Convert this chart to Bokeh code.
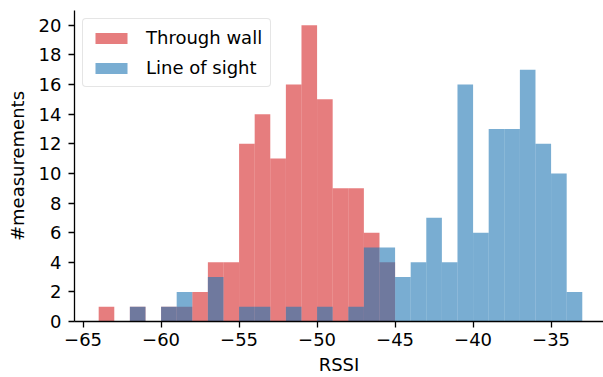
from bokeh.plotting import figure
from bokeh.models import Range1d, Legend, LegendItem, FixedTicker, ColumnDataSource
from bokeh.embed import file_html
from bokeh.resources import INLINE

# Histogram bins (left edges, width 1) and counts
bin_left = list(range(-64, -33))
through_wall = [1, 0, 1, 0, 1, 1, 2, 4, 4, 12, 14, 11, 16, 20, 15, 9, 9, 6, 4,
                0, 0, 0, 0, 0, 0, 0, 0, 0, 0, 0, 0]
line_of_sight = [0, 0, 1, 0, 1, 2, 0, 3, 0, 1, 1, 0, 1, 0, 1, 0, 1, 5, 5,
                 3, 4, 7, 4, 16, 6, 13, 13, 17, 12, 10, 2]
x_ticks = [-65, -60, -55, -50, -45, -40, -35]
y_ticks = list(range(0, 21, 2))

FONT = "DejaVu Sans"
FS = "18px"

p = figure(width=603, height=377, output_backend="svg", toolbar_location=None,
           x_range=Range1d(-65.55, -31.64), y_range=Range1d(0, 21))
p.min_border_left = 74
p.min_border_right = 0
p.min_border_top = 10
p.min_border_bottom = 56
p.outline_line_color = None
p.xgrid.visible = False
p.ygrid.visible = False
p.background_fill_color = "white"
p.border_fill_color = "white"

src_r = ColumnDataSource(dict(left=bin_left, right=[b + 1 for b in bin_left],
                              top=through_wall, bottom=[0] * len(bin_left)))
src_b = ColumnDataSource(dict(left=bin_left, right=[b + 1 for b in bin_left],
                              top=line_of_sight, bottom=[0] * len(bin_left)))

r_red = p.quad(left="left", right="right", top="top", bottom="bottom", source=src_r,
               fill_color=(214, 39, 40), fill_alpha=0.6, line_color=None)
r_blue = p.quad(left="left", right="right", top="top", bottom="bottom", source=src_b,
                fill_color=(31, 119, 180), fill_alpha=0.6, line_color=None)

for ax in (p.xaxis[0], p.yaxis[0]):
    ax.axis_line_width = 1.3
    ax.axis_line_color = "black"
    ax.major_tick_line_width = 1.3
    ax.major_tick_line_color = "black"
    ax.major_tick_out = 6
    ax.major_tick_in = 0
    ax.minor_tick_out = 0
    ax.minor_tick_in = 0
    ax.major_label_text_font = FONT
    ax.major_label_text_font_size = FS
    ax.major_label_text_color = "black"
    ax.axis_label_text_font = FONT
    ax.axis_label_text_font_size = FS
    ax.axis_label_text_font_style = "normal"
    ax.axis_label_text_color = "black"

p.xaxis.ticker = FixedTicker(ticks=x_ticks)
p.yaxis.ticker = FixedTicker(ticks=y_ticks)
p.xaxis.major_label_overrides = {t: "\u2212" + str(abs(t)) for t in x_ticks}
p.xaxis.axis_label = "RSSI"
p.yaxis.axis_label = "#measurements"
p.xaxis.major_label_standoff = 5
p.xaxis.axis_label_standoff = 5
p.yaxis.major_label_standoff = 7
p.yaxis.axis_label_standoff = 8

legend = Legend(items=[LegendItem(label="Through wall", renderers=[r_red]),
                       LegendItem(label="Line of sight", renderers=[r_blue])],
                location="top_left")
legend.margin = 8
legend.padding = 8
legend.spacing = 9
legend.glyph_width = 40
legend.glyph_height = 14
legend.label_height = 20
legend.label_standoff = 15
legend.label_text_font = FONT
legend.label_text_font_size = FS
legend.label_text_color = "black"
legend.border_line_color = "#cccccc"
legend.border_line_width = 1
legend.border_radius = 4
legend.background_fill_alpha = 0.8
p.add_layout(legend)

open("out.html", "w").write(file_html(p, INLINE))
